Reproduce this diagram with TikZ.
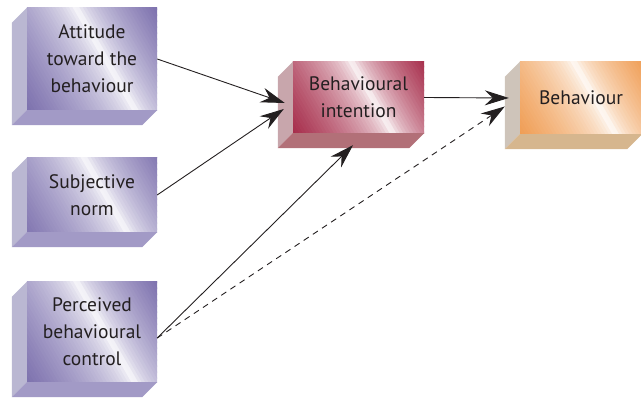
\documentclass[tikz,border=0pt]{standalone}
\usepackage{fontspec}
\setmainfont{PT Sans}
\usetikzlibrary{arrows.meta,calc,backgrounds}

\definecolor{textgrey}{RGB}{35,31,32}
\definecolor{purpledark}{RGB}{122,110,172}
\definecolor{purpleside}{RGB}{186,183,210}
\definecolor{purplebase}{RGB}{162,154,198}
\definecolor{reddark}{RGB}{160,30,62}
\definecolor{redside}{RGB}{200,166,172}
\definecolor{redbase}{RGB}{178,112,120}
\definecolor{orangedark}{RGB}{238,148,68}
\definecolor{orangeside}{RGB}{206,196,186}
\definecolor{orangebase}{RGB}{214,182,142}

\begin{document}
\begin{tikzpicture}[x=1pt,y=1pt,
	face/.style={inner sep=0pt, align=center, text=textgrey,
		font=\fontsize{19.5}{27}\selectfont},
	arr/.style={-{Stealth[length=24pt,width=15pt,inset=8pt]}, line width=.9pt, textgrey}]
	\useasboundingbox (0,0) rectangle (641,398);

	\node[face, minimum width=130, minimum height=102] (att) at (92,339) {Attitude\\toward the\\behaviour};
	\node[face, minimum width=130, minimum height=74] (sub) at (92,203) {Subjective\\norm};
	\node[face, minimum width=130, minimum height=100] (pbc) at (92,66) {Perceived\\behavioural\\control};
	\node[face, minimum width=131, minimum height=71] (bi) at (358.5,300.5) {Behavioural\\intention};
	\node[face, minimum width=122, minimum height=72] (beh) at (581,300) {Behaviour};

	% front faces: dark corners, white band across
	\begin{scope}[on background layer]
		\foreach \n/\dk in {att/purpledark, sub/purpledark, pbc/purpledark, bi/reddark, beh/orangedark} {
			\begin{scope}
				\clip (\n.south west) rectangle (\n.north east);
				\foreach \i in {0,...,59} {
					\pgfmathsetmacro\t{-88.5+3*\i}
					\pgfmathsetmacro\pct{100*min(1,(abs(\t-12)/ifthenelse(\t<12,97,73))^0.6)}
					\fill[\dk!\pct!white, shift={(\n.center)}, rotate=30] (\t-1.5,-110) rectangle ++(3.6,220);
				}
			\end{scope}
		}
	\end{scope}

	% side and bottom faces
	\foreach \n/\side/\base in {att/purpleside/purplebase, sub/purpleside/purplebase,
		pbc/purpleside/purplebase, bi/redside/redbase, beh/orangeside/orangebase} {
		\fill[\side] (\n.north west) -- (\n.south west) -- ++(-15,-15) -- ($(\n.north west)+(-15,-15)$) -- cycle;
		\fill[\base] (\n.south west) -- (\n.south east) -- ++(-15,-15) -- ($(\n.south west)+(-15,-15)$) -- cycle;
	}

	\draw[arr] (att.east) to ($(bi.west)+(-8,-5.5)$);
	\draw[arr] (sub.east) to ($(bi.west)+(-9,-11.5)$);
	\draw[arr] ([yshift=-6]pbc.east) to ($(bi.south)+(-5.5,-12)$);
	\draw[arr] (bi.east) to ($(beh.west)+(-11,0)$);
	\draw[arr, dash pattern=on 6pt off 5pt] ([yshift=-6]pbc.east) to ($(beh.west)+(-15,-8.5)$);
\end{tikzpicture}
\end{document}
